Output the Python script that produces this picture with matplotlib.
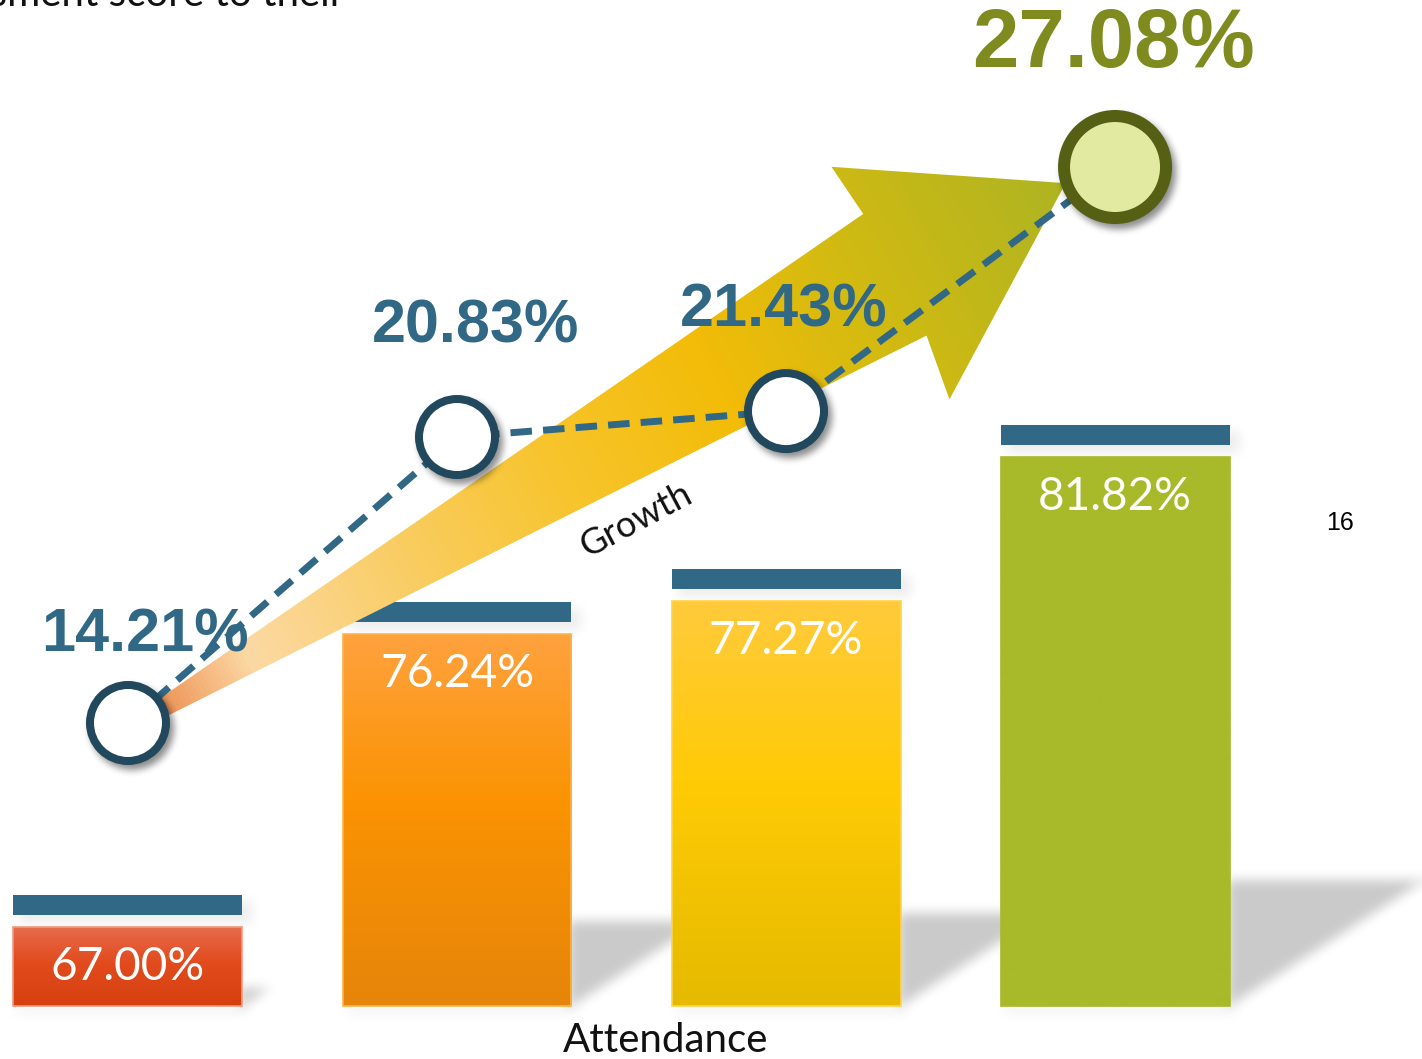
import numpy as np
import matplotlib.pyplot as plt
from matplotlib.colors import LinearSegmentedColormap
from matplotlib.path import Path
from matplotlib.patches import Polygon, Rectangle
from matplotlib.transforms import IdentityTransform

W, H = 1422, 1059

# data
groups = [0, 1, 2, 3]
attendance = [67.00, 76.24, 77.27, 81.82]
growth = [14.21, 20.83, 21.43, 27.08]

# bar styling
bar_top = ['#e66b4d', '#ffa23f', '#ffca3c', '#a8b92a']
bar_mid = ['#e24b1d', '#fb9302', '#ffcb05', '#a8b92a']
bar_bot = ['#d6400e', '#e6850a', '#e5ba00', '#a8b92a']
bar_edge = ['#f29a80', '#ffb347', '#ffd447', '#a8b92a']
cap_color = '#306885'
bar_width = 0.696
bar_base = 64.51

# growth markers
ring_colors = ['#22485e', '#22485e', '#22485e', '#556014']
fill_colors = ['white', 'white', 'white', '#e1eaa0']
outer_px = [84, 84, 84, 114]
ring_px = [8, 8, 8, 12]
label_colors = ['#306885', '#306885', '#306885', '#7f8b1e']
label_sizes = [44, 44, 44, 60]
label_offsets = [(17, 87), (19, 110), (-2, 100), (-2, 122)]

plt.rcParams['font.family'] = ['Lato', 'DejaVu Sans']

fig = plt.figure(figsize=(W / 100, H / 100), dpi=100, facecolor='white')
ax = fig.add_axes([0, 0, 1, 1])
ax2 = fig.add_axes([0, 0, 1, 1])
for a in (ax, ax2):
    a.set_axis_off()
    a.patch.set_visible(False)
    a.set_xlim(-0.389, 3.933)
ax.set_ylim(62.84, 96.24)
ax2.set_ylim(6.432, 30.946)
ax.set_zorder(1)
ax2.set_zorder(2)

# pixel grid (display coords, y up) for the soft shadow / gradient rasters
yy, xx = np.mgrid[0:H, 0:W]
px = xx + 0.5
py = H - yy - 0.5


def add_poly(mask, verts, weight=1.0):
    verts = np.asarray(verts, float)
    c0 = max(int(verts[:, 0].min()) - 1, 0)
    c1 = min(int(verts[:, 0].max()) + 2, W)
    r0 = max(int(H - verts[:, 1].max()) - 1, 0)
    r1 = min(int(H - verts[:, 1].min()) + 2, H)
    if c1 <= c0 or r1 <= r0:
        return
    pts = np.column_stack([px[r0:r1, c0:c1].ravel(), py[r0:r1, c0:c1].ravel()])
    inside = Path(verts).contains_points(pts).reshape(r1 - r0, c1 - c0)
    mask[r0:r1, c0:c1] = np.maximum(mask[r0:r1, c0:c1], inside * weight)


def box_blur(a, r, passes=3):
    for _ in range(passes):
        for axis in (0, 1):
            pad = [(0, 0), (0, 0)]
            pad[axis] = (r + 1, r)
            c = np.cumsum(np.pad(a, pad, mode='edge'), axis=axis)
            if axis == 0:
                a = (c[2 * r + 1:] - c[:-2 * r - 1]) / (2 * r + 1)
            else:
                a = (c[:, 2 * r + 1:] - c[:, :-2 * r - 1]) / (2 * r + 1)
    return a


def shadow_rgba(mask, alpha):
    img = np.zeros((H, W, 4))
    img[..., 3] = np.clip(mask, 0, 1) * alpha
    return img


# attendance bars
heights = [v - bar_base for v in attendance]
bars = ax.bar(groups, heights, bottom=bar_base, width=bar_width,
              color=bar_mid, zorder=2)
k = ax.transData.transform((0, 1))[1] - ax.transData.transform((0, 0))[1]
caps = ax.bar(groups, [20 / k] * 4, bottom=[v + 12 / k for v in attendance],
              width=bar_width, color=cap_color, zorder=2.7)

ground = np.zeros((H, W))
for i, b in enumerate(bars):
    x0, y0 = b.get_x(), b.get_y()
    x1, y1 = x0 + b.get_width(), y0 + b.get_height()
    grad = np.linspace(0, 1, 256)[:, None]
    cm = LinearSegmentedColormap.from_list(
        'bar%d' % i, [(0, bar_top[i]), (0.45, bar_mid[i]), (1, bar_bot[i])])
    ax.imshow(grad, cmap=cm, extent=(x0, x1, y0, y1), origin='upper',
              aspect='auto', zorder=2.5)
    ax.add_patch(Rectangle((x0, y0), x1 - x0, y1 - y0, fill=False,
                           ec=bar_edge[i], lw=1.2, zorder=2.6))
    ax.annotate(f'{attendance[i]:.2f}%', (groups[i], attendance[i]),
                xytext=(0, -40), textcoords='offset pixels', ha='center',
                va='center', color='white', fontsize=33, fontweight='normal',
                zorder=3)

    (dx0, dyb), (dx1, dyt) = ax.transData.transform([(x0, y0), (x1, y1)])
    h = 0.23 * (dyt - dyb)
    add_poly(ground, [(dx1 - 3, dyb), (dx1 - 3, dyb + h),
                      (dx1 + 1.55 * h, dyb + h), (dx1, dyb)])
    add_poly(ground, [(dx0 + 2, dyb - 7), (dx1 + 6, dyb - 7),
                      (dx1 + 6, dyb), (dx0 + 2, dyb)], 0.3)
    c = caps[i]
    (cx0, cy0), (cx1, cy1) = ax.transData.transform(
        [(c.get_x(), c.get_y()), (c.get_x() + c.get_width(), c.get_y() + c.get_height())])
    add_poly(ground, [(cx0 + 6, cy0 - 8), (cx1 + 10, cy0 - 8),
                      (cx1 + 10, cy1 - 6), (cx0 + 6, cy1 - 6)], 0.35)

ground = box_blur(ground, 5)
ax.imshow(shadow_rgba(ground, 0.21), extent=(*ax.get_xlim(), *ax.get_ylim()),
          origin='upper', aspect='auto', interpolation='nearest', zorder=1)

# growth arrow, built along the line from the first to the last point
pts = ax2.transData.transform(np.column_stack([groups, growth]))
P1, P4 = pts[0], pts[-1]
L = np.hypot(*(P4 - P1))
u = (P4 - P1) / L
v = np.array([u[1], -u[0]])
arrow_st = [(0, -0.002), (0.786, -0.073), (0.782, -0.123), (0.955, -0.009),
            (0.772, 0.107), (0.782, 0.048), (0, 0.010)]
arrow_verts = [P1 + s * L * u + t * L * v for s, t in arrow_st]

arrow_cmap = LinearSegmentedColormap.from_list('arrow', [
    (0.00, '#e2652c'), (0.04, '#ef9a5e'), (0.12, '#fcd9a4'), (0.30, '#f9cc5c'),
    (0.45, '#f7c42a'), (0.60, '#f3bc08'), (0.75, '#d2ba12'), (1.00, '#a6b326')])
s = ((px - P1[0]) * u[0] + (py - P1[1]) * u[1]) / L
arrow_img = ax2.imshow(arrow_cmap(np.clip(s, 0, 1)),
                       extent=(*ax2.get_xlim(), *ax2.get_ylim()),
                       origin='upper', aspect='auto', interpolation='nearest',
                       zorder=1)
arrow_img.set_clip_path(Polygon(arrow_verts, closed=True, transform=IdentityTransform()))

ax2.plot(groups, growth, color='#306885', lw=5, dashes=(3.1, 1.6),
         dash_capstyle='butt', zorder=2)

# drop shadows under the circles
circ = np.zeros((H, W))
for (cx, cy), r in zip(pts, outer_px):
    circ = np.maximum(circ, ((px - cx - 4) ** 2 + (py - cy + 5) ** 2 < (r / 2) ** 2) * 1.0)
circ = box_blur(circ, 3)
ax2.imshow(shadow_rgba(circ, 0.45), extent=(*ax2.get_xlim(), *ax2.get_ylim()),
           origin='upper', aspect='auto', interpolation='nearest', zorder=3)

sizes = [((o - r) * 0.72) ** 2 for o, r in zip(outer_px, ring_px)]
ax2.scatter(groups, growth, s=sizes, facecolors=fill_colors, edgecolors=ring_colors,
            linewidths=[r * 0.72 for r in ring_px], zorder=4)

for i, g in enumerate(growth):
    ax2.annotate(f'{g:.2f}%', (groups[i], g), xytext=label_offsets[i],
                 textcoords='offset pixels', ha='center', va='center',
                 color=label_colors[i], fontsize=label_sizes[i], fontweight='bold',
                 family=['Liberation Sans', 'DejaVu Sans'], zorder=5)

for a in (ax, ax2):
    a.set_xlim(-0.389, 3.933)
ax.set_ylim(62.84, 96.24)
ax2.set_ylim(6.432, 30.946)

fig.text(666 / W, (H - 1041) / H, 'Attendance', ha='center', va='center',
         fontsize=29, color='#111111')
fig.text(636 / W, (H - 520) / H, 'Growth', ha='center', va='center',
         rotation=28, fontsize=26, color='#111111')
fig.text(1340 / W, (H - 523) / H, '16', ha='center', va='center', fontsize=18,
         family=['Liberation Sans', 'DejaVu Sans'], color='black')
fig.text(345 / W, (H - 6) / H, 'assessment score to their', ha='right',
         va='baseline', fontsize=29, color='#111111')

fig.savefig('out.png', dpi=100, facecolor='white')
